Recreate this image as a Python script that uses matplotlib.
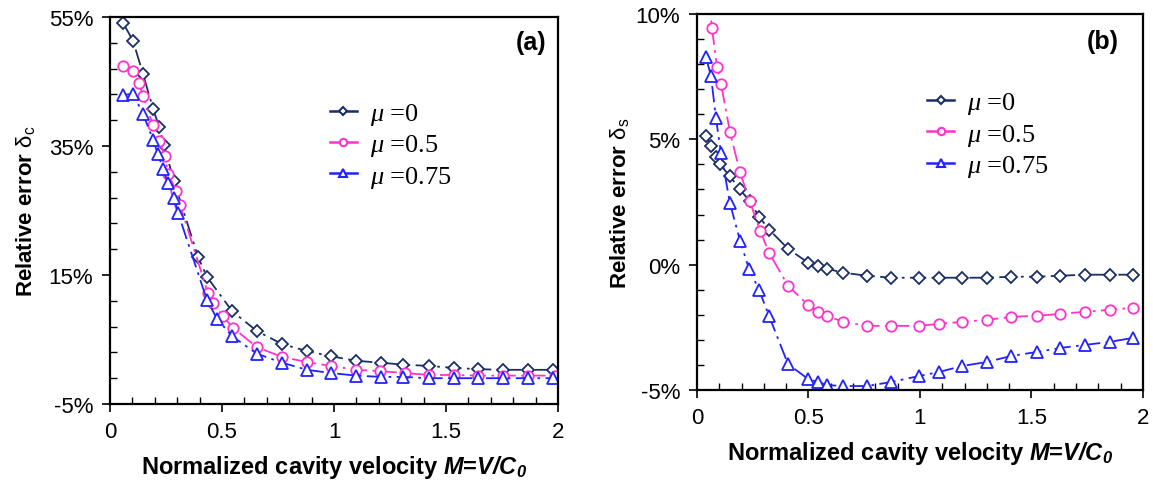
import numpy as np
import matplotlib
matplotlib.use("Agg")
import matplotlib.pyplot as plt
from matplotlib.lines import Line2D
from matplotlib.ticker import MultipleLocator, FixedLocator, FuncFormatter

# =====================================================
# DATA
# =====================================================

# panel (a): relative error delta_c  (%)
a_x0 = [0.058, 0.103, 0.147, 0.192, 0.219, 0.241, 0.286, 0.393, 0.433,
        0.545, 0.656, 0.768, 0.879, 0.987, 1.098, 1.21, 1.31, 1.424, 1.536,
        1.643, 1.754, 1.866, 1.978]
a_y0 = [54.1, 51.3, 46.2, 40.8, 38.0, 35.1, 29.5, 17.8, 14.7,
        9.4, 6.3, 4.3, 3.2, 2.4, 1.7, 1.4, 1.1, 0.9, 0.6,
        0.4, 0.3, 0.3, 0.3]

a_x05 = [0.058, 0.103, 0.129, 0.147, 0.192, 0.219, 0.246, 0.259, 0.295, 0.313,
         0.4375, 0.46, 0.504, 0.549, 0.656, 0.768, 0.879, 0.987,
         1.098, 1.205, 1.317, 1.424, 1.536, 1.643, 1.754, 1.866, 1.987]
a_y05 = [47.4, 46.7, 44.8, 42.8, 38.2, 35.8, 33.4, 30.7, 28.1, 25.8,
         12.2, 10.6, 8.6, 6.8, 3.8, 2.3, 1.5, 0.9,
         0.3, 0.1, -0.2, -0.5, -0.5, -0.6, -0.6, -0.6, -0.6]

a_x075 = [0.058, 0.103, 0.147, 0.192, 0.214, 0.237, 0.259, 0.286, 0.304,
          0.433, 0.478, 0.545, 0.656, 0.768, 0.879, 0.987, 1.098, 1.21,
          1.31, 1.424, 1.536, 1.643, 1.754, 1.866, 1.978]
a_y075 = [42.9, 43.1, 40.0, 36.0, 33.7, 31.5, 29.2, 26.9, 24.6,
          11.1, 8.2, 5.5, 2.8, 1.4, 0.3, -0.2, -0.6, -0.8,
          -0.8, -1.0, -1.0, -1.0, -1.0, -1.0, -1.0]

# panel (b): relative error delta_s  (%)
b_x = [0.04, 0.063, 0.085, 0.103, 0.148, 0.193, 0.237, 0.278, 0.323, 0.408,
       0.498, 0.543, 0.583, 0.655, 0.762, 0.87, 0.996, 1.085, 1.19, 1.30,
       1.41, 1.525, 1.63, 1.74, 1.85, 1.955]
b_y0 = [5.12, 4.72, 4.28, 4.0, 3.52, 3.0, 2.52, 1.92, 1.4, 0.64,
        0.08, -0.04, -0.16, -0.32, -0.44, -0.52, -0.52, -0.52, -0.52, -0.52,
        -0.48, -0.48, -0.44, -0.40, -0.40, -0.40]

b_x05 = [0.045, 0.067, 0.09, 0.108, 0.148, 0.193, 0.237, 0.283, 0.323, 0.408,
         0.498, 0.543, 0.583, 0.655, 0.762, 0.87, 0.996, 1.085, 1.19, 1.30,
         1.41, 1.525, 1.63, 1.74, 1.85, 1.955]
b_y05 = [11.2, 9.44, 7.88, 7.2, 5.28, 3.68, 2.52, 1.36, 0.48, -0.84,
         -1.6, -1.88, -2.04, -2.28, -2.44, -2.44, -2.44, -2.36, -2.28, -2.2,
         -2.08, -2.04, -1.96, -1.88, -1.8, -1.72]

b_x075 = [0.04, 0.063, 0.085, 0.108, 0.148, 0.193, 0.233, 0.278, 0.323, 0.408,
          0.498, 0.543, 0.583, 0.655, 0.762, 0.87, 0.996, 1.085, 1.19, 1.30,
          1.41, 1.525, 1.63, 1.74, 1.85, 1.955]
b_y075 = [8.28, 7.52, 5.84, 4.44, 2.44, 0.96, -0.16, -1.0, -2.04, -3.96,
          -4.56, -4.68, -4.8, -4.84, -4.84, -4.68, -4.44, -4.28, -4.04, -3.88,
          -3.64, -3.48, -3.32, -3.2, -3.08, -2.92]

labels = ["$\\mu$ =0", "$\\mu$ =0.5", "$\\mu$ =0.75"]

a_yticks = [-5, 15, 35, 55]
b_yticks = [-5, 0, 5, 10]

# =====================================================
# STYLE
# =====================================================

plt.rcParams["font.family"] = ["Liberation Sans", "DejaVu Sans"]
plt.rcParams["mathtext.fontset"] = "custom"
plt.rcParams["mathtext.rm"] = "Liberation Sans"
plt.rcParams["mathtext.it"] = "Liberation Serif:italic"
plt.rcParams["mathtext.bf"] = "Liberation Sans:bold"
plt.rcParams["mathtext.bfit"] = "Liberation Sans:italic:bold"

c_navy = "#1b2f66"
c_pink = "#ff33cc"
c_blue = "#2222ff"
dashdot = (0, (9, 3, 1.5, 3))

styles = [
    dict(color=c_navy, marker="D", markersize=6),
    dict(color=c_pink, marker="o", markersize=7.5),
    dict(color=c_blue, marker="^", markersize=8.5),
]

fig = plt.figure(figsize=(11.53, 4.81), dpi=100)
ax_a = fig.add_axes([0.0954, 0.158, 0.3886, 0.8046])
ax_b = fig.add_axes([0.6045, 0.187, 0.3868, 0.782])

pct = FuncFormatter(lambda v, p: f"{v:.0f}%")
plain = FuncFormatter(lambda v, p: f"{v:g}")

xlabel = "Normalized cavity velocity $\\mathbfit{M}$=$\\mathbfit{V/C_0}$"


def draw(ax, series, ylim, yticks, yminor, ylabel, ylpad, tag, tag_xy, leg_xy):
    for (xs, ys), st in zip(series, styles):
        ax.plot(xs, ys, linestyle=dashdot, linewidth=1.3, color=st["color"],
                marker=st["marker"], markersize=st["markersize"],
                markerfacecolor="white", markeredgecolor=st["color"],
                markeredgewidth=1.3)

    ax.set_xlim(0, 2)
    ax.set_ylim(*ylim)
    ax.xaxis.set_major_locator(MultipleLocator(0.5))
    ax.xaxis.set_minor_locator(MultipleLocator(0.1))
    ax.yaxis.set_major_locator(FixedLocator(yticks))
    ax.yaxis.set_minor_locator(FixedLocator(np.arange(ylim[0], ylim[1] + 0.01, yminor)))
    ax.xaxis.set_major_formatter(plain)
    ax.yaxis.set_major_formatter(pct)

    ax.tick_params(which="major", direction="out", length=6, width=1.2,
                   labelsize=16, pad=6)
    ax.tick_params(which="minor", direction="in", length=5, width=1.0)
    for sp in ax.spines.values():
        sp.set_linewidth(1.6)

    ax.set_xlabel(xlabel, fontsize=17, fontweight="bold", labelpad=8)
    ax.set_ylabel(ylabel, fontsize=16, fontweight="bold", labelpad=ylpad)

    ax.text(tag_xy[0], tag_xy[1], tag, transform=ax.transAxes, ha="right",
            va="center", fontsize=18, fontweight="bold")

    # legend entries: solid short line with small open marker
    handles = [Line2D([], [], color=st["color"], linewidth=1.8,
                      marker=st["marker"], markersize=st["markersize"] * 0.7,
                      markerfacecolor="white", markeredgecolor=st["color"],
                      markeredgewidth=1.5) for st in styles]
    ax.legend(handles, labels, loc="upper left", bbox_to_anchor=leg_xy,
              frameon=False, prop={"family": "Liberation Serif", "size": 19},
              handlelength=1.0, handletextpad=0.5, labelspacing=0.2,
              borderaxespad=0)


draw(ax_a,
     [(a_x0, a_y0), (a_x05, a_y05), (a_x075, a_y075)],
     (-5, 55), a_yticks, 4,
     "Relative error $\\mathrm{δ_c}$", 8, "(a)", (0.975, 0.935), (0.468, 0.81))

draw(ax_b,
     [(b_x, b_y0), (b_x05, b_y05), (b_x075, b_y075)],
     (-5, 10), b_yticks, 1,
     "Relative error $\\mathrm{δ_s}$", 3, "(b)", (0.945, 0.928), (0.493, 0.825))

fig.savefig("out.png", dpi=100)
